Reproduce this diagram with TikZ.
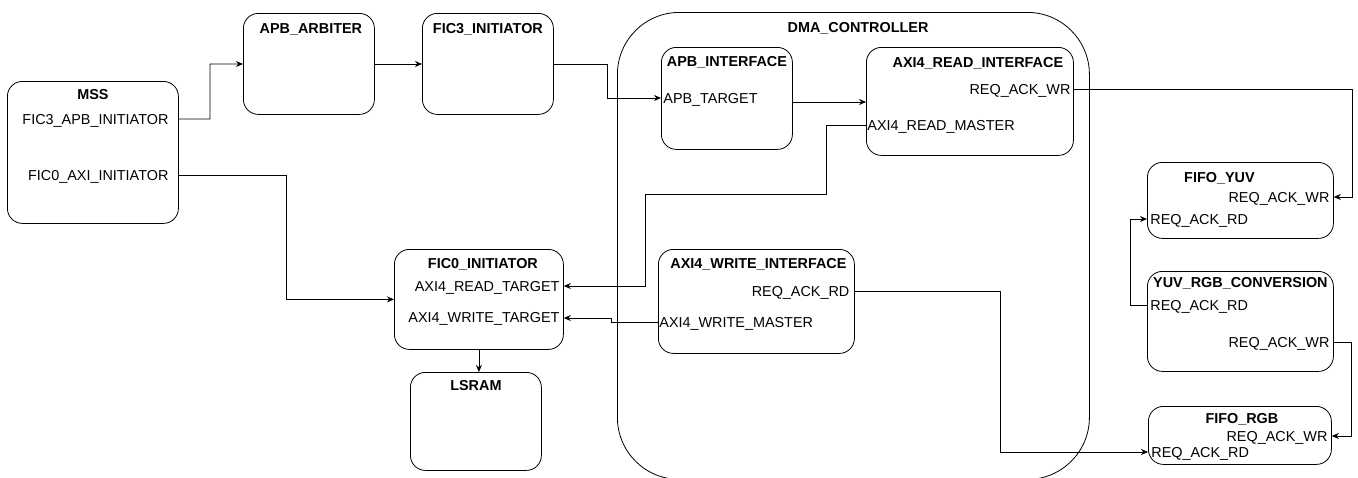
\documentclass[tikz,border=0pt]{standalone}
\usepackage{fontspec}
\setmainfont{Liberation Sans}
\usetikzlibrary{arrows.meta}

\tikzset{
  blk/.style={draw, rounded corners=15, anchor=north west, inner sep=0},
  txt/.style={font=\fontsize{14.4}{16}\selectfont, inner sep=0, text height=10.3pt, text depth=0pt},
  ttl/.style={txt, font=\fontsize{14.4}{16}\selectfont\bfseries},
  pr/.style={txt, anchor=east},
  pl/.style={txt, anchor=west},
  wire/.style={-{Stealth[length=7,width=6]}, line width=0.8},
}

\begin{document}
\begin{tikzpicture}[x=1pt, y=-1pt, line width=0.8]
\useasboundingbox (0,0) rectangle (1358,477);

% the DMA block goes first so the wires cross over it
\node[blk, rounded corners=62, minimum width=472, minimum height=467] (dma) at (617,12) {};
\node[ttl] (dma-t) at (858,27) {DMA\_CONTROLLER};

% left side
\node[blk, minimum width=171, minimum height=142] (mss) at (7,81) {};
\node[ttl] (mss-t) at (mss.north |- 0,94) {MSS};
\node[pr, xshift=-10] (mss-apb) at (mss.east |- 0,119) {FIC3\_APB\_INITIATOR};
\node[pr, xshift=-10] (mss-axi) at (mss.east |- 0,175) {FIC0\_AXI\_INITIATOR};

\node[blk, minimum width=131, minimum height=101] (arb) at (243,13) {};
\node[ttl] (arb-t) at ([xshift=2]arb.north |- 0,28) {APB\_ARBITER};

\node[blk, minimum width=131, minimum height=101] (fic3) at (422,13) {};
\node[ttl] (fic3-t) at (fic3.north |- 0,28) {FIC3\_INITIATOR};

\node[blk, minimum width=169, minimum height=100] (fic0) at (394,249) {};
\node[ttl] (fic0-t) at ([xshift=4]fic0.north |- 0,263) {FIC0\_INITIATOR};
\node[pr, xshift=-4] (fic0-rd) at (fic0.east |- 0,286) {AXI4\_READ\_TARGET};
\node[pr, xshift=-4] (fic0-wr) at (fic0.east |- 0,317) {AXI4\_WRITE\_TARGET};

\node[blk, minimum width=131, minimum height=98] (lsram) at (410,372) {};
\node[ttl] (lsram-t) at (lsram.north |- 0,385) {LSRAM};

% inside the DMA block
\node[blk, minimum width=131, minimum height=102] (apbif) at (661,47) {};
\node[ttl] (apbif-t) at (apbif.north |- 0,61) {APB\_INTERFACE};
\node[pl, xshift=2] (apbif-tgt) at (apbif.west |- 0,98) {APB\_TARGET};

\node[blk, minimum width=207, minimum height=108] (rdif) at (866,47) {};
\node[ttl] (rdif-t) at ([xshift=8]rdif.north |- 0,62) {AXI4\_READ\_INTERFACE};
\node[pr, xshift=-3] (rdif-wr) at (rdif.east |- 0,89) {REQ\_ACK\_WR};
\node[pl, xshift=1] (rdif-m) at (rdif.west |- 0,125) {AXI4\_READ\_MASTER};

\node[blk, minimum width=196, minimum height=104] (wrif) at (658,249) {};
\node[ttl] (wrif-t) at ([xshift=2]wrif.north |- 0,263) {AXI4\_WRITE\_INTERFACE};
\node[pr, xshift=-5] (wrif-rd) at (wrif.east |- 0,291) {REQ\_ACK\_RD};
\node[pl, xshift=1] (wrif-m) at (wrif.west |- 0,322) {AXI4\_WRITE\_MASTER};

% right column
\node[blk, minimum width=186, minimum height=76] (fyuv) at (1147,162) {};
\node[ttl] (fyuv-t) at ([xshift=-21]fyuv.north |- 0,177) {FIFO\_YUV};
\node[pr, xshift=-4] (fyuv-wr) at (fyuv.east |- 0,197) {REQ\_ACK\_WR};
\node[pl, xshift=3] (fyuv-rd) at (fyuv.west |- 0,219) {REQ\_ACK\_RD};

\node[blk, minimum width=186, minimum height=100] (conv) at (1147,271) {};
\node[ttl] (conv-t) at (conv.north |- 0,282) {YUV\_RGB\_CONVERSION};
\node[pl, xshift=3] (conv-rd) at (conv.west |- 0,305) {REQ\_ACK\_RD};
\node[pr, xshift=-4] (conv-wr) at (conv.east |- 0,342) {REQ\_ACK\_WR};

\node[blk, minimum width=183, minimum height=58] (frgb) at (1148,406) {};
\node[ttl] (frgb-t) at ([xshift=2]frgb.north |- 0,418) {FIFO\_RGB};
\node[pr, xshift=-4] (frgb-wr) at (frgb.east |- 0,436) {REQ\_ACK\_WR};
\node[pl, xshift=3] (frgb-rd) at (frgb.west |- 0,452) {REQ\_ACK\_RD};

% wires
\draw[wire] (mss.east |- mss-apb) -| ([xshift=-33]arb.west) -- (arb.west |- 0,64);
\draw[wire] (mss.east |- mss-axi) -| ([xshift=-108]fic0.west) -- (fic0.west);
\draw[wire] (arb.east |- 0,64) -- (fic3.west |- 0,64);
\draw[wire] (fic3.east |- 0,64) -- ++(54,0) |- (apbif.west |- apbif-tgt);
\draw[wire] (apbif.east |- 0,102) -- (rdif.west |- 0,102);
\draw[wire] (rdif.west |- rdif-m) -- ++(-40,0) -- ++(0,69) -| ([xshift=82]fic0.east |- fic0-rd) -- (fic0.east |- fic0-rd);
\draw[wire] (wrif.west |- wrif-m) -- ++(-47,0) |- (fic0.east |- 0,318);
\draw[wire] (fic0.south) -- (fic0.south |- lsram.north);
\draw[wire] (rdif.east |- rdif-wr) -| ([xshift=19]fyuv.east |- fyuv-wr) -- (fyuv.east |- fyuv-wr);
\draw[wire] (conv.west |- conv-rd) -| ([xshift=-17]fyuv.west |- fyuv-rd) -- (fyuv.west |- fyuv-rd);
\draw[wire] (conv.east |- conv-wr) -| ([xshift=20]frgb.east |- frgb-wr) -- (frgb.east |- frgb-wr);
\draw[wire] ([xshift=-1]wrif.east |- wrif-rd) -| ([xshift=-148]frgb.west |- frgb-rd) -- (frgb.west |- frgb-rd);
\end{tikzpicture}
\end{document}
